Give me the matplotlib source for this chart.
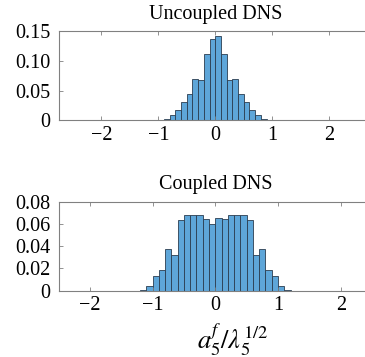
import numpy as np
import matplotlib
matplotlib.use("Agg")
import matplotlib.pyplot as plt

plt.rcParams["font.family"] = ["Liberation Serif", "DejaVu Serif"]
plt.rcParams["mathtext.fontset"] = "stix"

# histogram data, bin width 0.1, zero bins cover -2.5 .. 2.5
bin_width = 0.1
hist_range = (-2.5, 2.5)

# Uncoupled DNS: non-zero bins from -0.9 to 0.9
uncoupled_start = -0.9
uncoupled_heights = [0.0025, 0.009, 0.0177, 0.0307, 0.044, 0.070, 0.069, 0.1127, 0.137,
                     0.143, 0.1127, 0.069, 0.070, 0.044, 0.031, 0.018, 0.009, 0.0025]

# Coupled DNS: non-zero bins from -1.2 to 1.2
coupled_start = -1.2
coupled_heights = [0.001, 0.0045, 0.0135, 0.0183, 0.0375, 0.032, 0.0635, 0.0677, 0.0677,
                   0.0677, 0.0645, 0.0603, 0.0654, 0.0642, 0.0677, 0.0677, 0.0677, 0.0635,
                   0.032, 0.0375, 0.0183, 0.0135, 0.0045, 0.001]

top_yticks = [0, 0.05, 0.10, 0.15]
top_yticklabels = ["0", "0.05", "0.10", "0.15"]
bottom_yticks = [0, 0.02, 0.04, 0.06, 0.08]
bottom_yticklabels = ["0", "0.02", "0.04", "0.06", "0.08"]
xticks = [-2, -1, 0, 1, 2]
xticklabels = ["\u22122", "\u22121", "0", "1", "2"]

face = (0.37, 0.65, 0.85)
edge = "#2b3d50"
spine = "#808080"


def full_bins(start, heights):
    n_left = int(round((start - hist_range[0]) / bin_width))
    n_right = int(round((hist_range[1] - start) / bin_width)) - len(heights)
    h = np.concatenate([np.zeros(n_left), heights, np.zeros(n_right)])
    edges = hist_range[0] + bin_width * np.arange(len(h))
    return edges, h


def draw_panel(ax, start, heights, title, xlim, ylim, yticks, yticklabels):
    edges, h = full_bins(start, heights)
    ax.bar(edges, h, width=bin_width, align="edge", color=face,
           edgecolor=edge, linewidth=0.6)
    ax.set_xlim(xlim)
    ax.set_ylim(ylim)
    ax.set_xticks(xticks)
    ax.set_xticklabels(xticklabels)
    ax.set_yticks(yticks)
    ax.set_yticklabels(yticklabels)
    ax.tick_params(direction="in", length=3, width=0.6, color=spine,
                   top=True, right=True, labelsize=14.5)
    ax.tick_params(axis="x", pad=4)
    ax.tick_params(axis="y", pad=6)
    for s in ax.spines.values():
        s.set_color(spine)
        s.set_linewidth(0.8)
    ax.set_title(title, fontsize=14.5, pad=9)


fig = plt.figure(figsize=(3.65, 3.57), dpi=100)

ax1 = fig.add_axes([0.1603, 0.6625, 0.859, 0.2493])
draw_panel(ax1, uncoupled_start, uncoupled_heights, "Uncoupled DNS",
           (-2.75, 2.75), (0, 0.15), top_yticks, top_yticklabels)

ax2 = fig.add_axes([0.1603, 0.1857, 0.859, 0.2493])
draw_panel(ax2, coupled_start, coupled_heights, "Coupled DNS",
           (-2.5, 2.5), (0, 0.08), bottom_yticks, bottom_yticklabels)
ax2.set_xlabel(r"$a_5^f/\lambda_5^{1/2}$", fontsize=19, labelpad=4)
ax2.xaxis.label.set_x(0.555)

fig.savefig("out.png", dpi=100)
